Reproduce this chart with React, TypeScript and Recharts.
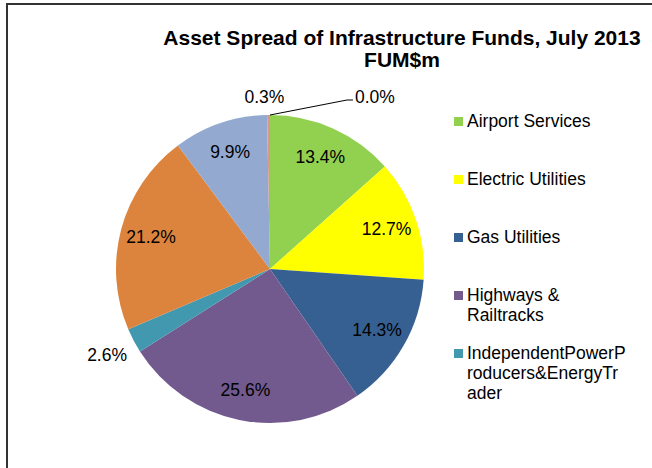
import React from 'react';
import { PieChart, Pie, Cell, Legend } from 'recharts';

const categories = [
  'Airport Services',
  'Electric Utilities',
  'Gas Utilities',
  'Highways & Railtracks',
  'IndependentPowerProducers&EnergyTrader',
  'Category 6',
  'Category 7',
  'Category 8',
  'Category 9',
];
const values = [13.4, 12.7, 14.3, 25.6, 2.6, 21.2, 9.9, 0.3, 0.0];
const colors = ['#92D050', '#FFFF00', '#376092', '#725A8E', '#4198AF', '#DC843D', '#93A9CF', '#D99694', '#B8CCE4'];
const legendLines = [
  ['Airport Services'],
  ['Electric Utilities'],
  ['Gas Utilities'],
  ['Highways &', 'Railtracks'],
  ['IndependentPowerP', 'roducers&EnergyTr', 'ader'],
];
const titleLines = ['Asset Spread of Infrastructure Funds, July 2013', 'FUM$m'];

const data = categories.map((name, i) => ({ name, value: values[i] }));

const FONT = '"Liberation Sans", Arial, sans-serif';
const RAD = Math.PI / 180;

function polar(cx: number, cy: number, r: number, angle: number) {
  return { x: cx + r * Math.cos(-angle * RAD), y: cy + r * Math.sin(-angle * RAD) };
}

const renderLabel = (props: any) => {
  const { cx, cy, midAngle, outerRadius, index, value } = props;
  const text = `${Number(value).toFixed(1)}%`;
  const common = { fontFamily: FONT, fontSize: 17.5, fill: '#000' };
  if (index === 8) {
    const s = polar(cx, cy, outerRadius, midAngle);
    const e = { x: s.x + 77, y: s.y - 15 };
    const f = { x: e.x + 6, y: e.y };
    return (
      <g key={`lbl-${index}`}>
        <polyline points={`${s.x},${s.y} ${e.x},${e.y} ${f.x},${f.y}`} fill="none" stroke="#000" strokeWidth={1} />
        <text x={f.x + 2} y={f.y + 3} textAnchor="start" {...common}>{text}</text>
      </g>
    );
  }
  let r = outerRadius * 0.8;
  let dx = 0;
  if (index === 4) r = outerRadius * 1.195;
  if (index === 7) { r = outerRadius * 1.115; dx = -4; }
  const p = polar(cx, cy, r, midAngle);
  return (
    <text key={`lbl-${index}`} x={p.x + dx} y={p.y + 6} textAnchor="middle" {...common}>{text}</text>
  );
};

const renderLegend = () => (
  <div style={{ position: 'relative', width: 198, height: 320, fontFamily: FONT, fontSize: 17.5, color: '#000' }}>
    {legendLines.map((lines, i) => (
      <div key={i}>
        <div style={{ position: 'absolute', left: 0, top: 9 + 58 * i, width: 9, height: 9, background: colors[i] }} />
        <div style={{ position: 'absolute', left: 13, top: 3 + 58 * i, lineHeight: '20px', whiteSpace: 'nowrap' }}>
          {lines.map((l, j) => (
            <div key={j}>{l}</div>
          ))}
        </div>
      </div>
    ))}
  </div>
);

export default function App() {
  return (
    <div style={{ position: 'absolute', left: 0, top: 0, width: 652, height: 468, overflow: 'hidden', background: '#fff' }}>
      <div style={{ position: 'absolute', left: 6, top: 3, width: 700, height: 520, borderTop: '2px solid #333', borderLeft: '2px solid #333' }} />
      <div style={{ position: 'absolute', left: 0, top: 0 }}>
        <PieChart width={652} height={468} margin={{ top: 0, right: 0, bottom: 0, left: 0 }}>
          <Pie
            data={data}
            dataKey="value"
            nameKey="name"
            cx={270}
            cy={269}
            outerRadius={154}
            startAngle={90}
            endAngle={-270}
            stroke="none"
            label={renderLabel}
            labelLine={false}
            isAnimationActive={false}
          >
            {data.map((d, i) => (
              <Cell key={d.name} fill={colors[i]} />
            ))}
          </Pie>
          <Legend content={renderLegend} wrapperStyle={{ position: 'absolute', left: 454, top: 108, width: 198 }} />
        </PieChart>
      </div>
      {titleLines.map((t, i) => (
        <div
          key={i}
          style={{
            position: 'absolute',
            left: 152,
            width: 500,
            top: i === 0 ? 45 - 19 : 67 - 19,
            textAlign: 'center',
            fontFamily: FONT,
            fontWeight: 'bold',
            fontSize: 21,
            lineHeight: '24px',
            whiteSpace: 'nowrap',
          }}
        >
          {t}
        </div>
      ))}
    </div>
  );
}
